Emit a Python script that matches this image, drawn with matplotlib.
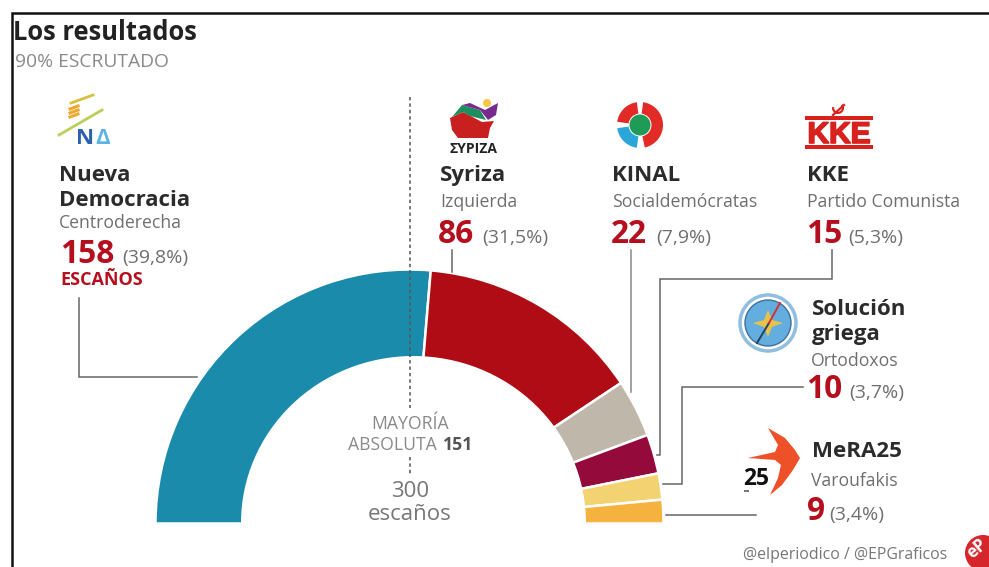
import matplotlib
matplotlib.use('Agg')
import matplotlib.pyplot as plt
import matplotlib.patheffects as pe
from matplotlib.patches import Circle, Polygon, Wedge, Ellipse

plt.rcParams['font.family'] = ['Open Sans', 'DejaVu Sans']

W, H = 989, 567

# datos
parties = ['Nueva Democracia', 'Syriza', 'KINAL', 'KKE', 'Solución griega', 'MeRA25']
seats = [158, 86, 22, 15, 10, 9]
shares = ['(39,8%)', '(31,5%)', '(7,9%)', '(5,3%)', '(3,7%)', '(3,4%)']
colors = ['#1b8bab', '#b00c16', '#bfb8aa', '#940a3a', '#f3d272', '#f6b23e']
total = sum(seats)

DARK = '#2b2b2b'
GREY = '#6f6f6f'
RED = '#b50f1e'
LINE = '#666666'
NAME = 16
SUB = 12.7
NUM = 22.8
PCT = 14

fig = plt.figure(figsize=(W / 100, H / 100), dpi=100)
ax = fig.add_axes([0, 0, 1, 1])


def Y(py):
    return H - py


def txt(x, y, s, size=11, color=DARK, weight='normal', ha='left'):
    return ax.text(x, Y(y), s, fontsize=size, color=color, fontweight=weight,
                   ha=ha, va='baseline', zorder=6)


def leader(xs, ys, color=LINE, lw=1.1):
    ax.plot(xs, [Y(v) for v in ys], color=color, lw=lw, solid_joinstyle='miter', zorder=1)


def poly(points, color, z=3):
    ax.add_patch(Polygon([(a, Y(b)) for a, b in points], closed=True, fc=color, ec='none', zorder=z))


# semicirculo: la mitad oculta completa el pie
wedges, _ = ax.pie(seats + [total], colors=colors + ['white'], startangle=180, counterclock=False,
                   center=(409.5, Y(523.5)), radius=254, frame=True,
                   wedgeprops=dict(width=110, edgecolor='white', linewidth=1.8))
wedges[-1].set_visible(False)
# el hueco del original no es del todo circular
ax.add_patch(Ellipse((413.5, Y(523)), 345, 334, fc='white', ec='none', zorder=2))
# tapa lo que sobra bajo la base
ax.fill_between([140, 680], Y(567), Y(523.5), color='white', lw=0, zorder=2)

ax.set_xlim(0, W)
ax.set_ylim(0, H)
ax.set_aspect('auto')
ax.axis('off')

# marco
leader([11.5, 11.5, W], [H, 13, 13], color='#111111', lw=1.8)

# linea de mayoria
ax.plot([410, 410], [Y(97), Y(408)], color='#555555', lw=1.1, ls=(0, (2.2, 2)), zorder=4)
ax.plot([410, 410], [Y(457), Y(476)], color='#555555', lw=1.1, ls=(0, (2.2, 2)), zorder=4)

# lineas guia
leader([79, 79, 197], [298, 377, 377])
leader([452, 452], [250, 272])
leader([631, 631], [250, 392], color='#888888')
leader([832, 832, 660, 660, 657], [250, 279, 279, 455, 455])
leader([803, 682, 682, 663], [387, 387, 484, 484])
leader([666, 756], [515, 515])

# titulo
txt(13, 40, 'Los resultados', 18.4, '#222222', 'bold')
txt(15, 67, '90% ESCRUTADO', 13.9, '#8a8a8a')

# bloques de partidos
txt(59, 181, 'Nueva', NAME, DARK, 'bold')
txt(59, 206, 'Democracia', NAME, DARK, 'bold')
txt(59, 228, 'Centroderecha', SUB, GREY)
txt(60, 263, str(seats[0]), NUM, RED, 'bold')
txt(122, 263, shares[0], PCT, GREY)
txt(60, 285, 'ESCAÑOS', 13, RED, 'bold')

txt(440, 181, parties[1], NAME, DARK, 'bold')
txt(440, 207, 'Izquierda', SUB, GREY)
txt(438, 243, str(seats[1]), NUM, RED, 'bold')
txt(482, 243, shares[1], PCT, GREY)

txt(612, 181, parties[2], NAME, DARK, 'bold')
txt(612, 207, 'Socialdemócratas', SUB, GREY)
txt(611, 243, str(seats[2]), NUM, RED, 'bold')
txt(656, 243, shares[2], PCT, GREY)

txt(807, 181, parties[3], NAME, DARK, 'bold')
txt(807, 207, 'Partido Comunista', SUB, GREY)
txt(806, 243, str(seats[3]), NUM, RED, 'bold')
txt(848, 243, shares[3], PCT, GREY)

txt(812, 315, 'Solución', NAME, DARK, 'bold')
txt(812, 340, 'griega', NAME, DARK, 'bold')
txt(811, 366, 'Ortodoxos', SUB, GREY)
txt(806, 398, str(seats[4]), NUM, RED, 'bold')
txt(849, 398, shares[4], PCT, GREY)

txt(812, 457, parties[5], NAME, DARK, 'bold')
txt(811, 486, 'Varoufakis', SUB, GREY)
txt(807, 520, str(seats[5]), NUM, RED, 'bold')
txt(829, 520, shares[5], PCT, GREY)

# centro
txt(410, 429, 'MAYORÍA', SUB, '#8a8a8a', ha='center')
txt(348, 450, 'ABSOLUTA', SUB, '#8a8a8a')
txt(443, 450, '151', SUB, '#555555', 'bold')
txt(410, 497, '300', 16, '#777777', ha='center')
txt(410, 520, 'escaños', 16, '#777777', ha='center')

# logo ND
ax.plot([59, 102], [Y(135), Y(110)], color='#b9cf5a', lw=2, zorder=3)
ax.plot([71, 93], [Y(103), Y(95)], color='#d8c040', lw=2, zorder=3)
for yy in (108, 112, 116):
    ax.plot([70, 78], [Y(yy + 1), Y(yy - 2)], color='#f0a72c', lw=2.2, zorder=3)
txt(76, 144, 'Ν', 16, '#2a62ad', 'bold')
txt(95, 144, 'Δ', 16, '#5bb4e5', 'bold')

# logo Syriza
poly([(450, 118), (463, 112), (482, 122), (494, 121), (490, 128), (488, 138), (458, 138), (452, 130)], '#c8201f')
poly([(452, 117), (462, 105), (480, 110), (486, 120), (470, 116), (463, 112)], '#1d8f5e')
poly([(462, 105), (470, 103), (485, 110), (498, 103), (496, 115), (488, 120), (480, 110)], '#7a2a8f')
ax.add_patch(Circle((487, Y(103)), 4, fc='#f6c544', ec='none', zorder=2.5))
txt(449, 153, 'ΣΥΡΙΖΑ', 10, '#222222', 'bold')

# logo KINAL
for t1, t2, col in [(98, 172, '#e22a26'), (188, 262, '#2aa7d8'), (-78, 82, '#e22a26')]:
    ax.add_patch(Wedge((640, Y(125)), 23, t1, t2, width=11.5, fc=col, ec='none', zorder=3))
ax.add_patch(Circle((640, Y(125)), 10.5, fc='#1f9a57', ec='none', zorder=4))

# logo KKE
poly([(805, 116), (873, 116), (873, 119.5), (805, 119.5)], '#d8201c')
poly([(805, 145), (873, 145), (873, 148.5), (805, 148.5)], '#d8201c')
kke = ax.text(839, Y(143), 'KKE', fontsize=21.5, color='#d8201c', fontweight='bold', ha='center', va='baseline',
              family='Liberation Sans', zorder=3)
kke.set_path_effects([pe.withStroke(linewidth=1.2, foreground='#d8201c')])
ax.add_patch(Wedge((838, Y(108)), 6, 170, 400, width=2.2, fc='#d8201c', ec='none', zorder=3))
ax.plot([833, 844], [Y(115), Y(105)], color='#d8201c', lw=1.6, zorder=3)

# logo Solucion griega
ax.add_patch(Circle((768, Y(323)), 28, fc='white', ec='#8fbfe0', lw=2.5, zorder=3))
ax.add_patch(Circle((768, Y(323)), 23, fc='#63aede', ec='#3f6f9c', lw=1, zorder=3))
poly([(768, 310), (772, 320), (783, 323), (772, 327), (768, 337), (764, 327), (753, 323), (764, 320)], '#e8c24a', 4)
ax.plot([757, 769], [Y(343), Y(323)], color='#26405f', lw=1.4, zorder=5)
ax.plot([769, 780], [Y(323), Y(303)], color='#d4322f', lw=1.4, zorder=5)

# logo MeRA25
poly([(768, 428), (785, 438), (795, 450), (800, 458), (793, 470), (782, 485), (770, 495),
      (778, 478), (781, 465), (775, 460), (748, 458), (775, 452), (778, 445)], '#ee5127')
txt(743, 485, '25', 16.5, '#111111', 'bold')
poly([(744, 490), (749, 490), (749, 492), (744, 492)], '#777777')

# pie
txt(743, 559, '@elperiodico / @EPGraficos', 11.4, '#777777')
ax.add_patch(Circle((983, Y(553)), 18, fc='#d5262c', ec='none', zorder=3))
ax.text(977, Y(558), 'eP', fontsize=12, color='white', fontweight='bold', rotation=40, ha='center', va='baseline',
        zorder=4)

fig.savefig('out.png', dpi=100)
